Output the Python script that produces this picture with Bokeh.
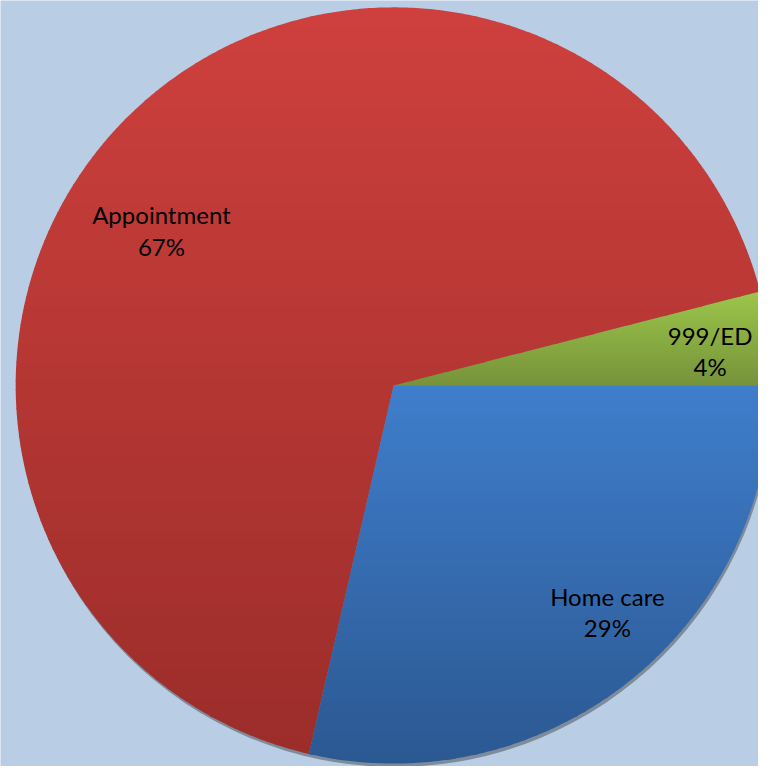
import math
import numpy as np
from bokeh.plotting import figure
from bokeh.models import Range1d
from bokeh.core.properties import value
from bokeh.embed import file_html
from bokeh.resources import INLINE

# ---- data ----
categories = ["999/ED", "Appointment", "Home care"]
shares = [4.0, 67.4, 28.6]
pct_labels = ["4%", "67%", "29%"]

# ---- style ----
top_colors = ["#9CC64A", "#CE403D", "#3F7ECC"]
bottom_colors = ["#76923B", "#9B2D2A", "#2B5891"]
label_radius = [325, 285, 318]
label_angle_nudge = [-1.0, 10.6, 4.8]
BG = "#B9CDE5"
W, H = 774, 782
MARGIN = 8
CX, CY = 401.5, H - 393.0
R = 386.0

p = figure(width=W - 2 * MARGIN, height=H - 2 * MARGIN, output_backend="svg",
           toolbar_location=None, x_range=Range1d(0, W),
           y_range=Range1d(0, H), min_border=0)
p.axis.visible = False
p.grid.visible = False
p.outline_line_color = None
p.background_fill_color = BG
p.border_fill_color = BG

# shadow (mostly below the pie)
p.circle(x=[CX + 1.5], y=[CY - 3.5], radius=R, fill_color="#7A8796",
         line_color=None, fill_alpha=0.95)


def hex2rgb(h):
    h = h.lstrip("#")
    return np.array([int(h[i:i + 2], 16) for i in (0, 2, 4)], dtype=float)


def rgb2hex(c):
    return "#%02x%02x%02x" % tuple(int(round(v)) for v in c)


def clip(poly, y0, keep_above):
    out = []
    n = len(poly)
    for i in range(n):
        a = poly[i]
        b = poly[(i + 1) % n]
        ina = a[1] >= y0 if keep_above else a[1] <= y0
        inb = b[1] >= y0 if keep_above else b[1] <= y0
        if ina:
            out.append(a)
        if ina != inb:
            t = (y0 - a[1]) / (b[1] - a[1])
            out.append((a[0] + t * (b[0] - a[0]), y0))
    return out


total = sum(shares)
start = 0.0
xs_all, ys_all, cols_all = [], [], []
mids = []
for i, s in enumerate(shares):
    span = 2 * math.pi * s / total
    end = start + span
    mids.append(start + span / 2)
    n = max(8, int(span / (2 * math.pi) * 720))
    th = np.linspace(start, end, n)
    poly = [(CX, CY)] + [(CX + R * math.cos(t), CY + R * math.sin(t)) for t in th]
    ys_poly = [q[1] for q in poly]
    ytop, ybot = max(ys_poly), min(ys_poly)
    nb = 80
    c_top, c_bot = hex2rgb(top_colors[i]), hex2rgb(bottom_colors[i])
    edges = np.linspace(ybot, ytop, nb + 1)
    for k in range(nb):
        lo, hi = edges[k] - 0.6, edges[k + 1] + 0.6
        if k == 0:
            lo = edges[k] - 0.01
        if k == nb - 1:
            hi = edges[k + 1] + 0.01
        pc = clip(poly, lo, True)
        if len(pc) < 3:
            continue
        pc = clip(pc, hi, False)
        if len(pc) < 3:
            continue
        f = ((edges[k] + edges[k + 1]) / 2 - ybot) / (ytop - ybot)
        col = c_bot + (c_top - c_bot) * f
        xs_all.append([q[0] for q in pc])
        ys_all.append([q[1] for q in pc])
        cols_all.append(rgb2hex(col))
    start = end

p.patches(xs=xs_all, ys=ys_all, fill_color=cols_all, line_color=None)

# labels
lx, ly1, ly2, t1, t2 = [], [], [], [], []
for i, m in enumerate(mids):
    a = m + math.radians(label_angle_nudge[i])
    x = CX + label_radius[i] * math.cos(a)
    y = CY + label_radius[i] * math.sin(a)
    lx.append(x)
    ly1.append(y + 16)
    ly2.append(y - 16)
    t1.append(categories[i])
    t2.append(pct_labels[i])

for yy, tt in ((ly1, t1), (ly2, t2)):
    p.text(x=lx, y=yy, text=tt, text_align="center", text_baseline="middle",
           text_font=value("Lato"), text_font_size="24px", text_color="#000000")

open("out.html", "w").write(file_html(p, INLINE))
